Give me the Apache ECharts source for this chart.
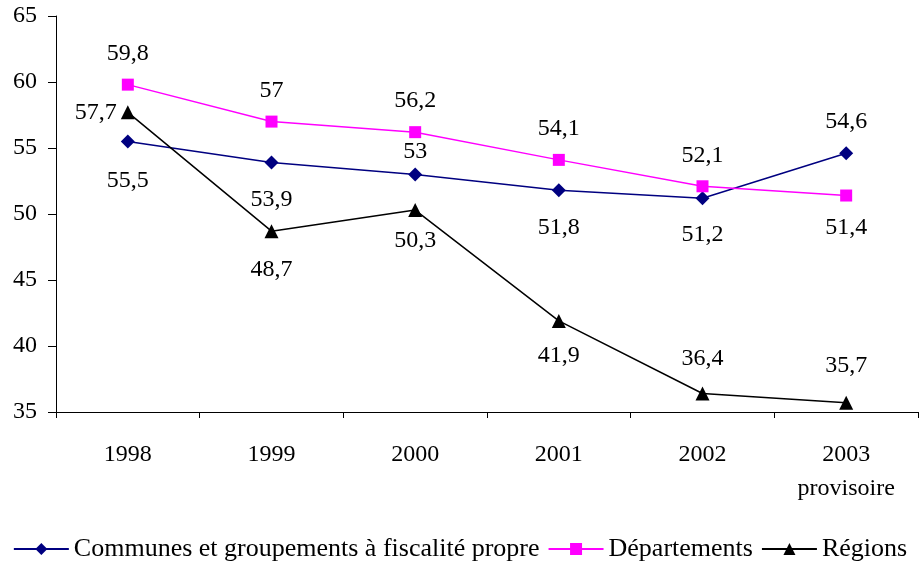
<!DOCTYPE html>
<html>
<head>
<meta charset="utf-8">
<script src="https://cdn.jsdelivr.net/npm/echarts@6/dist/echarts.min.js"></script>
<style>
    html, body { margin: 0; padding: 0; background: #fff; }
    #chart { width: 920px; height: 569px; }
</style>
</head>
<body>
<div id="chart"></div>
<script>
var years = ['1998', '1999', '2000', '2001', '2002', '2003\nprovisoire'];
var communes = [55.5, 53.9, 53, 51.8, 51.2, 54.6];
var departements = [59.8, 57, 56.2, 54.1, 52.1, 51.4];
var regions = [57.7, 48.7, 50.3, 41.9, 36.4, 35.7];

// where each value label sits
var communesPos = ['bottom', 'bottom', 'top', 'bottom', 'bottom', 'top'];
var departementsPos = ['top', 'top', 'top', 'top', 'top', 'bottom'];
var regionsPos = ['left', 'bottom', 'bottom', 'bottom', 'top', 'top'];
// gap between point and label
var communesGap = [20, 18, 4, 18, 18, 13];
var departementsGap = [13, 13, 13, 13, 13, 14];
var regionsGap = [4, 20, 12, 16, 16, 18];

var font = 'Liberation Serif, Times New Roman, serif';

function withLabels(values, positions, gaps) {
    return values.map(function (v, i) {
        return { value: v, label: { position: positions[i], distance: gaps[i] } };
    });
}

var chart = echarts.init(document.getElementById('chart'));

function makeSeries(name, values, positions, gaps, color, symbol, size) {
    return {
        name: name,
        type: 'line',
        data: withLabels(values, positions, gaps),
        symbol: symbol,
        symbolSize: size,
        lineStyle: { color: color, width: 1.5 },
        itemStyle: { color: color },
        label: {
            show: true,
            color: '#000',
            fontFamily: font,
            fontSize: 24,
            formatter: function (p) {
                return String(p.value).replace('.', ',');
            }
        },
        animation: false
    };
}

var option = {
    backgroundColor: '#fff',
    grid: { left: 56, top: 16, right: 2, bottom: 157 },
    legend: {
        bottom: 2,
        left: 'center',
        itemWidth: 55,
        itemHeight: 15,
        itemGap: 8,
        textStyle: { fontFamily: font, fontSize: 26, color: '#000' },
        data: [
            'Communes et groupements à fiscalité propre',
            'Départements',
            'Régions'
        ]
    },
    xAxis: {
        type: 'category',
        data: years,
        boundaryGap: true,
        axisLine: { lineStyle: { color: '#000', width: 1 } },
        axisTick: { show: true, length: 6, inside: false, lineStyle: { color: '#000' } },
        axisLabel: {
            color: '#000',
            fontFamily: font,
            fontSize: 24,
            margin: 26,
            lineHeight: 34
        },
        splitLine: { show: false }
    },
    yAxis: {
        type: 'value',
        min: 35,
        max: 65,
        interval: 5,
        axisLine: { show: true, lineStyle: { color: '#000', width: 1 } },
        axisTick: { show: true, length: 8, lineStyle: { color: '#000' } },
        axisLabel: { color: '#000', fontFamily: font, fontSize: 24, margin: 19 },
        splitLine: { show: false }
    },
    series: [
        makeSeries('Communes et groupements à fiscalité propre', communes, communesPos, communesGap, '#000080', 'diamond', 14),
        makeSeries('Départements', departements, departementsPos, departementsGap, '#ff00ff', 'rect', 12),
        makeSeries('Régions', regions, regionsPos, regionsGap, '#000000', 'triangle', 14)
    ]
};

chart.setOption(option);

window.onresize = function () {
    setTimeout(function () {
        chart.resize();
    }, 200);
};
</script>
</body>
</html>
